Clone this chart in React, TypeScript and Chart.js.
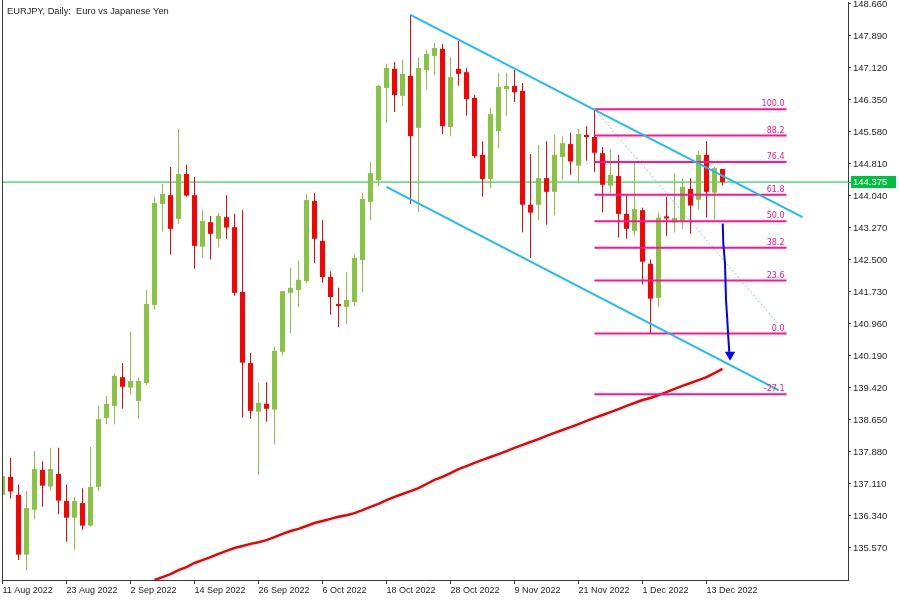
import React, { useEffect, useRef } from 'react';
import { Chart, registerables } from 'chart.js';
Chart.register(...registerables);

const title = 'EURJPY, Daily:  Euro vs Japanese Yen';

const dates = [
  '11 Aug 2022','12 Aug 2022','15 Aug 2022','16 Aug 2022','17 Aug 2022','18 Aug 2022','19 Aug 2022','22 Aug 2022','23 Aug 2022','24 Aug 2022','25 Aug 2022','26 Aug 2022','29 Aug 2022','30 Aug 2022','31 Aug 2022',
  '1 Sep 2022','2 Sep 2022','5 Sep 2022','6 Sep 2022','7 Sep 2022','8 Sep 2022','9 Sep 2022','12 Sep 2022','13 Sep 2022','14 Sep 2022','15 Sep 2022','16 Sep 2022','19 Sep 2022','20 Sep 2022','21 Sep 2022','22 Sep 2022','23 Sep 2022','26 Sep 2022','27 Sep 2022','28 Sep 2022','29 Sep 2022','30 Sep 2022',
  '3 Oct 2022','4 Oct 2022','5 Oct 2022','6 Oct 2022','7 Oct 2022','10 Oct 2022','11 Oct 2022','12 Oct 2022','13 Oct 2022','14 Oct 2022','17 Oct 2022','18 Oct 2022','19 Oct 2022','20 Oct 2022','21 Oct 2022','24 Oct 2022','25 Oct 2022','26 Oct 2022','27 Oct 2022','28 Oct 2022','31 Oct 2022',
  '1 Nov 2022','2 Nov 2022','3 Nov 2022','4 Nov 2022','7 Nov 2022','8 Nov 2022','9 Nov 2022','10 Nov 2022','11 Nov 2022','14 Nov 2022','15 Nov 2022','16 Nov 2022','17 Nov 2022','18 Nov 2022','21 Nov 2022','22 Nov 2022','23 Nov 2022','24 Nov 2022','25 Nov 2022','28 Nov 2022','29 Nov 2022','30 Nov 2022',
  '1 Dec 2022','2 Dec 2022','5 Dec 2022','6 Dec 2022','7 Dec 2022','8 Dec 2022','9 Dec 2022','12 Dec 2022','13 Dec 2022','14 Dec 2022','15 Dec 2022',
];

const opens = [
  136.85,137.28,136.85,135.41,136.49,137.45,137.05,137.35,136.70,136.30,
  136.65,136.11,137.04,138.70,138.99,139.68,139.43,139.11,139.54,141.42,
  143.85,144.06,143.49,144.57,144.06,142.82,143.41,143.01,143.53,143.29,
  141.73,140.02,138.85,139.04,138.90,140.29,141.71,141.78,141.99,143.92,
  142.96,142.09,141.44,141.37,141.49,142.50,143.90,144.42,146.64,147.10,
  146.45,146.93,145.68,147.07,147.41,147.58,145.70,147.10,147.02,146.40,
  145.03,144.45,145.60,146.61,146.69,146.57,143.83,143.83,144.47,144.14,
  144.98,145.29,144.77,145.51,145.46,145.07,144.29,144.52,143.61,143.20,
  143.70,142.41,141.59,143.55,143.40,143.42,144.21,143.95,145.03,144.12,
  144.69,
];
const highs = [
  137.30,137.74,137.09,136.94,137.90,137.66,137.98,137.98,137.09,136.80,
  137.01,138.00,138.99,139.23,139.77,140.02,140.77,139.67,141.78,144.02,
  144.33,144.74,145.65,144.79,144.50,143.70,143.56,143.63,144.06,143.61,
  143.70,140.26,139.54,139.56,140.41,141.75,142.31,142.48,144.09,144.11,
  143.46,142.23,141.83,142.21,142.64,144.11,144.86,146.71,147.22,147.26,
  147.31,148.40,147.38,147.55,147.72,147.70,147.38,147.77,147.12,146.47,
  145.36,146.16,147.00,147.00,147.07,146.76,145.05,145.27,145.36,145.51,
  145.48,145.56,145.65,145.72,146.13,145.22,145.17,145.03,144.05,144.87,
  143.76,142.51,143.64,144.02,144.59,144.47,144.47,145.12,145.36,144.74,
  144.69,
];
const lows = [
  136.85,136.76,135.28,135.04,136.27,136.56,136.95,136.39,135.72,135.53,
  136.01,136.08,136.95,138.55,138.55,138.92,139.26,138.68,139.49,141.30,
  143.18,142.63,143.37,144.02,142.29,142.56,142.51,142.80,143.01,141.64,
  138.71,138.68,137.33,138.61,138.06,140.21,140.74,141.37,141.95,142.43,
  141.95,141.18,140.89,140.96,141.39,141.73,143.46,144.28,145.80,146.06,
  146.21,143.85,143.65,146.61,146.95,145.53,145.48,146.69,145.97,144.95,
  144.02,144.23,145.19,145.97,146.30,143.17,142.55,143.46,143.35,143.57,
  144.43,144.55,144.34,144.89,144.62,143.64,144.12,143.04,143.01,143.09,
  141.91,140.73,141.38,143.08,143.16,143.24,143.13,143.71,143.52,143.47,
  144.29,
];
const closes = [
  137.30,136.93,135.41,136.53,137.47,137.07,137.47,136.71,136.30,136.70,
  136.11,137.04,138.67,139.04,139.71,139.45,139.59,139.59,141.44,143.87,
  144.09,143.25,144.57,144.05,142.84,143.44,143.13,143.56,143.28,141.71,
  140.03,138.87,139.06,138.92,140.31,141.75,141.83,142.02,143.94,143.01,
  142.09,141.61,141.39,141.54,142.55,143.97,144.59,146.69,147.12,146.47,
  146.98,145.48,147.12,147.46,147.60,145.72,146.90,146.98,146.37,145.00,
  144.45,146.01,146.66,146.69,146.54,143.83,143.64,144.47,144.14,145.03,
  145.31,144.87,145.53,145.46,145.08,144.31,144.55,143.61,143.25,143.73,
  142.46,141.57,143.52,143.50,143.51,144.26,143.81,145.03,144.14,144.71,
  144.375,
];

// Moving average (red), first value belongs to bar maStart
const maStart = 19;
const maValues = [
  134.80,134.87,134.94,135.04,135.11,135.21,135.28,135.35,135.43,135.50,
  135.57,135.62,135.67,135.71,135.76,135.83,135.91,135.98,136.03,136.10,
  136.17,136.22,136.27,136.32,136.36,136.41,136.48,136.56,136.63,136.72,
  136.80,136.87,136.94,137.01,137.11,137.21,137.28,137.37,137.47,137.54,
  137.62,137.69,137.76,137.83,137.90,137.98,138.05,138.12,138.19,138.27,
  138.34,138.41,138.48,138.55,138.63,138.70,138.77,138.84,138.91,138.99,
  139.06,139.13,139.18,139.25,139.32,139.40,139.47,139.54,139.61,139.68,
  139.78,139.88,
];

const priceTicks = [148.66,147.89,147.12,146.35,145.58,144.81,144.04,143.27,142.5,141.73,140.96,140.19,139.42,138.65,137.88,137.11,136.34,135.57];
const dateTickBars = [0,8,16,24,32,40,48,56,64,72,80,88];

const bidPrice = 144.375;

const fibHigh = 146.13;
const fibLow = 140.73;
const fibFromBar = 74;
const fibToBar = 98;
const fibLevels = [100, 88.2, 76.4, 61.8, 50.0, 38.2, 23.6, 0.0, -27.1];

const channelUpper = [{ x: 51, y: 148.40 }, { x: 100, y: 143.53 }];
const channelLower = [{ x: 48, y: 144.26 }, { x: 97, y: 139.37 }];

const arrowPath = [
  { x: 90.03, y: 143.38 }, { x: 90.1, y: 142.90 }, { x: 90.31, y: 142.42 },
  { x: 90.44, y: 141.54 }, { x: 90.6, y: 141.06 }, { x: 90.72, y: 140.65 }, { x: 90.85, y: 140.29 },
];
const arrowHead = [{ x: 90.94, y: 140.22 }];

const X_MIN = -0.0625;
const X_MAX = 105.6875;
const Y_MIN = 134.80;
const Y_MAX = 148.708;

const BULL = '#86c441';
const BEAR = '#ff0000';
const FIB = '#ff1493';
const CHANNEL = '#1ebcf2';
const BID = '#00c040';
const TEXT = '#262626';
const AXIS = '#3a3a3a';

const fibPrice = (lvl: number) => fibLow + (fibHigh - fibLow) * lvl / 100;

export default function App() {
  const ref = useRef<HTMLCanvasElement | null>(null);

  useEffect(() => {
    if (!ref.current) return;
    const idx = opens.map((_, i) => i);
    const colors = idx.map((i) => (closes[i] >= opens[i] ? BULL : BEAR));

    const fibDatasets = fibLevels.map((lvl) => ({
      type: 'line' as const,
      data: [{ x: fibFromBar, y: fibPrice(lvl) }, { x: fibToBar, y: fibPrice(lvl) }],
      borderColor: FIB,
      borderWidth: 2,
      pointRadius: 0,
      order: 5,
    }));

    const bgPlugin = {
      id: 'bg',
      beforeDraw(chart: any) {
        const ctx = chart.ctx;
        ctx.save();
        ctx.fillStyle = '#ffffff';
        ctx.fillRect(0, 0, chart.width, chart.height);
        ctx.restore();
      },
    };

    const overlayPlugin = {
      id: 'overlay',
      afterDatasetsDraw(chart: any) {
        const ctx = chart.ctx;
        const ys = chart.scales.y;
        const xs = chart.scales.x;
        ctx.save();
        ctx.font = '8px "DejaVu Sans"';
        ctx.fillStyle = FIB;
        ctx.textAlign = 'right';
        ctx.textBaseline = 'bottom';
        const xr = xs.getPixelForValue(fibToBar) - 2;
        fibLevels.forEach((lvl) => {
          const y = ys.getPixelForValue(fibPrice(lvl));
          ctx.fillText(lvl.toFixed(1), xr, y - 1);
        });
        ctx.restore();
      },
      afterDraw(chart: any) {
        const ctx = chart.ctx;
        const a = chart.chartArea;
        const ys = chart.scales.y;
        ctx.save();
        ctx.fillStyle = AXIS;
        ctx.fillRect(a.left, 0, 1, a.bottom + 1);
        ctx.fillStyle = TEXT;
        ctx.font = '9.3px "Liberation Sans"';
        ctx.textAlign = 'left';
        ctx.textBaseline = 'middle';
        ctx.fillText(title, 7, 11);
        const y = Math.round(ys.getPixelForValue(bidPrice));
        ctx.fillStyle = BID;
        ctx.fillRect(a.right, y, 3, 1);
        ctx.fillRect(a.right + 3, y - 6, 45, 12);
        ctx.fillStyle = '#ffffff';
        ctx.font = '9.5px "Liberation Sans"';
        ctx.fillText(bidPrice.toFixed(3), a.right + 5, y + 0.5);
        ctx.restore();
      },
    };

    const chart = new Chart(ref.current, {
      type: 'bar',
      data: {
        datasets: [
          {
            type: 'line',
            data: [{ x: X_MIN, y: bidPrice }, { x: X_MAX, y: bidPrice }],
            borderColor: BID,
            borderWidth: 1,
            pointRadius: 0,
            order: 10,
          },
          {
            type: 'line',
            data: maValues.map((v, i) => ({ x: maStart + i, y: v })),
            borderColor: '#f00000',
            borderWidth: 2.5,
            pointRadius: 0,
            order: 9,
          },
          {
            type: 'bar',
            data: idx.map((i) => ({ x: i, y: [lows[i], highs[i]] })),
            backgroundColor: colors,
            barThickness: 1,
            grouped: false,
            inflateAmount: 0,
            minBarLength: 1,
            order: 8,
          } as any,
          {
            type: 'bar',
            data: idx.map((i) => ({ x: i, y: [opens[i], closes[i]] })),
            backgroundColor: colors,
            barThickness: 5,
            grouped: false,
            inflateAmount: 0,
            minBarLength: 1,
            order: 7,
          } as any,
          {
            type: 'line',
            data: [{ x: fibFromBar, y: fibHigh }, { x: fibToBar, y: fibLow }],
            borderColor: 'rgba(110,185,230,0.8)',
            borderWidth: 1,
            borderDash: [2, 2],
            pointRadius: 0,
            order: 6,
          },
          ...fibDatasets,
          {
            type: 'line',
            data: channelUpper,
            borderColor: CHANNEL,
            borderWidth: 2,
            pointRadius: 0,
            order: 4,
          },
          {
            type: 'line',
            data: channelLower,
            borderColor: CHANNEL,
            borderWidth: 2,
            pointRadius: 0,
            order: 4,
          },
          {
            type: 'line',
            data: arrowPath,
            borderColor: '#0000ff',
            borderWidth: 2,
            pointRadius: 0,
            tension: 0,
            order: 3,
          },
          {
            type: 'line',
            data: arrowHead,
            showLine: false,
            pointStyle: 'triangle',
            rotation: 180,
            pointRadius: 6,
            pointBackgroundColor: '#0000ff',
            pointBorderColor: '#0000ff',
            pointBorderWidth: 0,
            clip: false,
            order: 2,
          } as any,
        ] as any,
      },
      options: {
        animation: false,
        responsive: false,
        maintainAspectRatio: false,
        devicePixelRatio: 1,
        layout: { autoPadding: false, padding: { left: 2, top: 2, right: 0, bottom: 0 } },
        plugins: { legend: { display: false }, tooltip: { enabled: false }, title: { display: false } },
        scales: {
          x: {
            type: 'linear',
            position: 'bottom',
            min: X_MIN,
            max: X_MAX,
            offset: false,
            grid: { display: true, drawOnChartArea: false, drawTicks: true, tickLength: 4, color: AXIS, offset: false },
            border: { display: true, color: AXIS, width: 1 },
            ticks: {
              autoSkip: false,
              maxRotation: 0,
              minRotation: 0,
              align: 'start',
              padding: 1,
              color: TEXT,
              font: { family: '"Liberation Sans"', size: 9 },
              callback: (v: any) => dates[Math.round(Number(v))] ?? '',
            },
            afterBuildTicks: (s: any) => { s.ticks = dateTickBars.map((v) => ({ value: v })); },
            afterFit: (s: any) => { s.height = 20; s.paddingLeft = 0; s.paddingRight = 0; },
          },
          y: {
            type: 'linear',
            position: 'right',
            min: Y_MIN,
            max: Y_MAX,
            grid: { display: true, drawOnChartArea: false, drawTicks: true, tickLength: 3, color: AXIS },
            border: { display: true, color: AXIS, width: 1 },
            ticks: {
              padding: 2,
              color: TEXT,
              font: { family: '"Liberation Sans"', size: 9.5 },
              callback: (v: any) => Number(v).toFixed(3),
            },
            afterBuildTicks: (s: any) => { s.ticks = priceTicks.map((v) => ({ value: v })); },
            afterFit: (s: any) => { s.width = 52; s.paddingTop = 0; s.paddingBottom = 0; },
          },
        },
      } as any,
      plugins: [bgPlugin, overlayPlugin],
    });
    return () => chart.destroy();
  }, []);

  return (
    <div style={{ position: 'fixed', left: 0, top: 0, width: 900, height: 600, background: '#fff' }}>
      <canvas ref={ref} width={900} height={600} style={{ display: 'block', width: 900, height: 600 }} />
    </div>
  );
}
